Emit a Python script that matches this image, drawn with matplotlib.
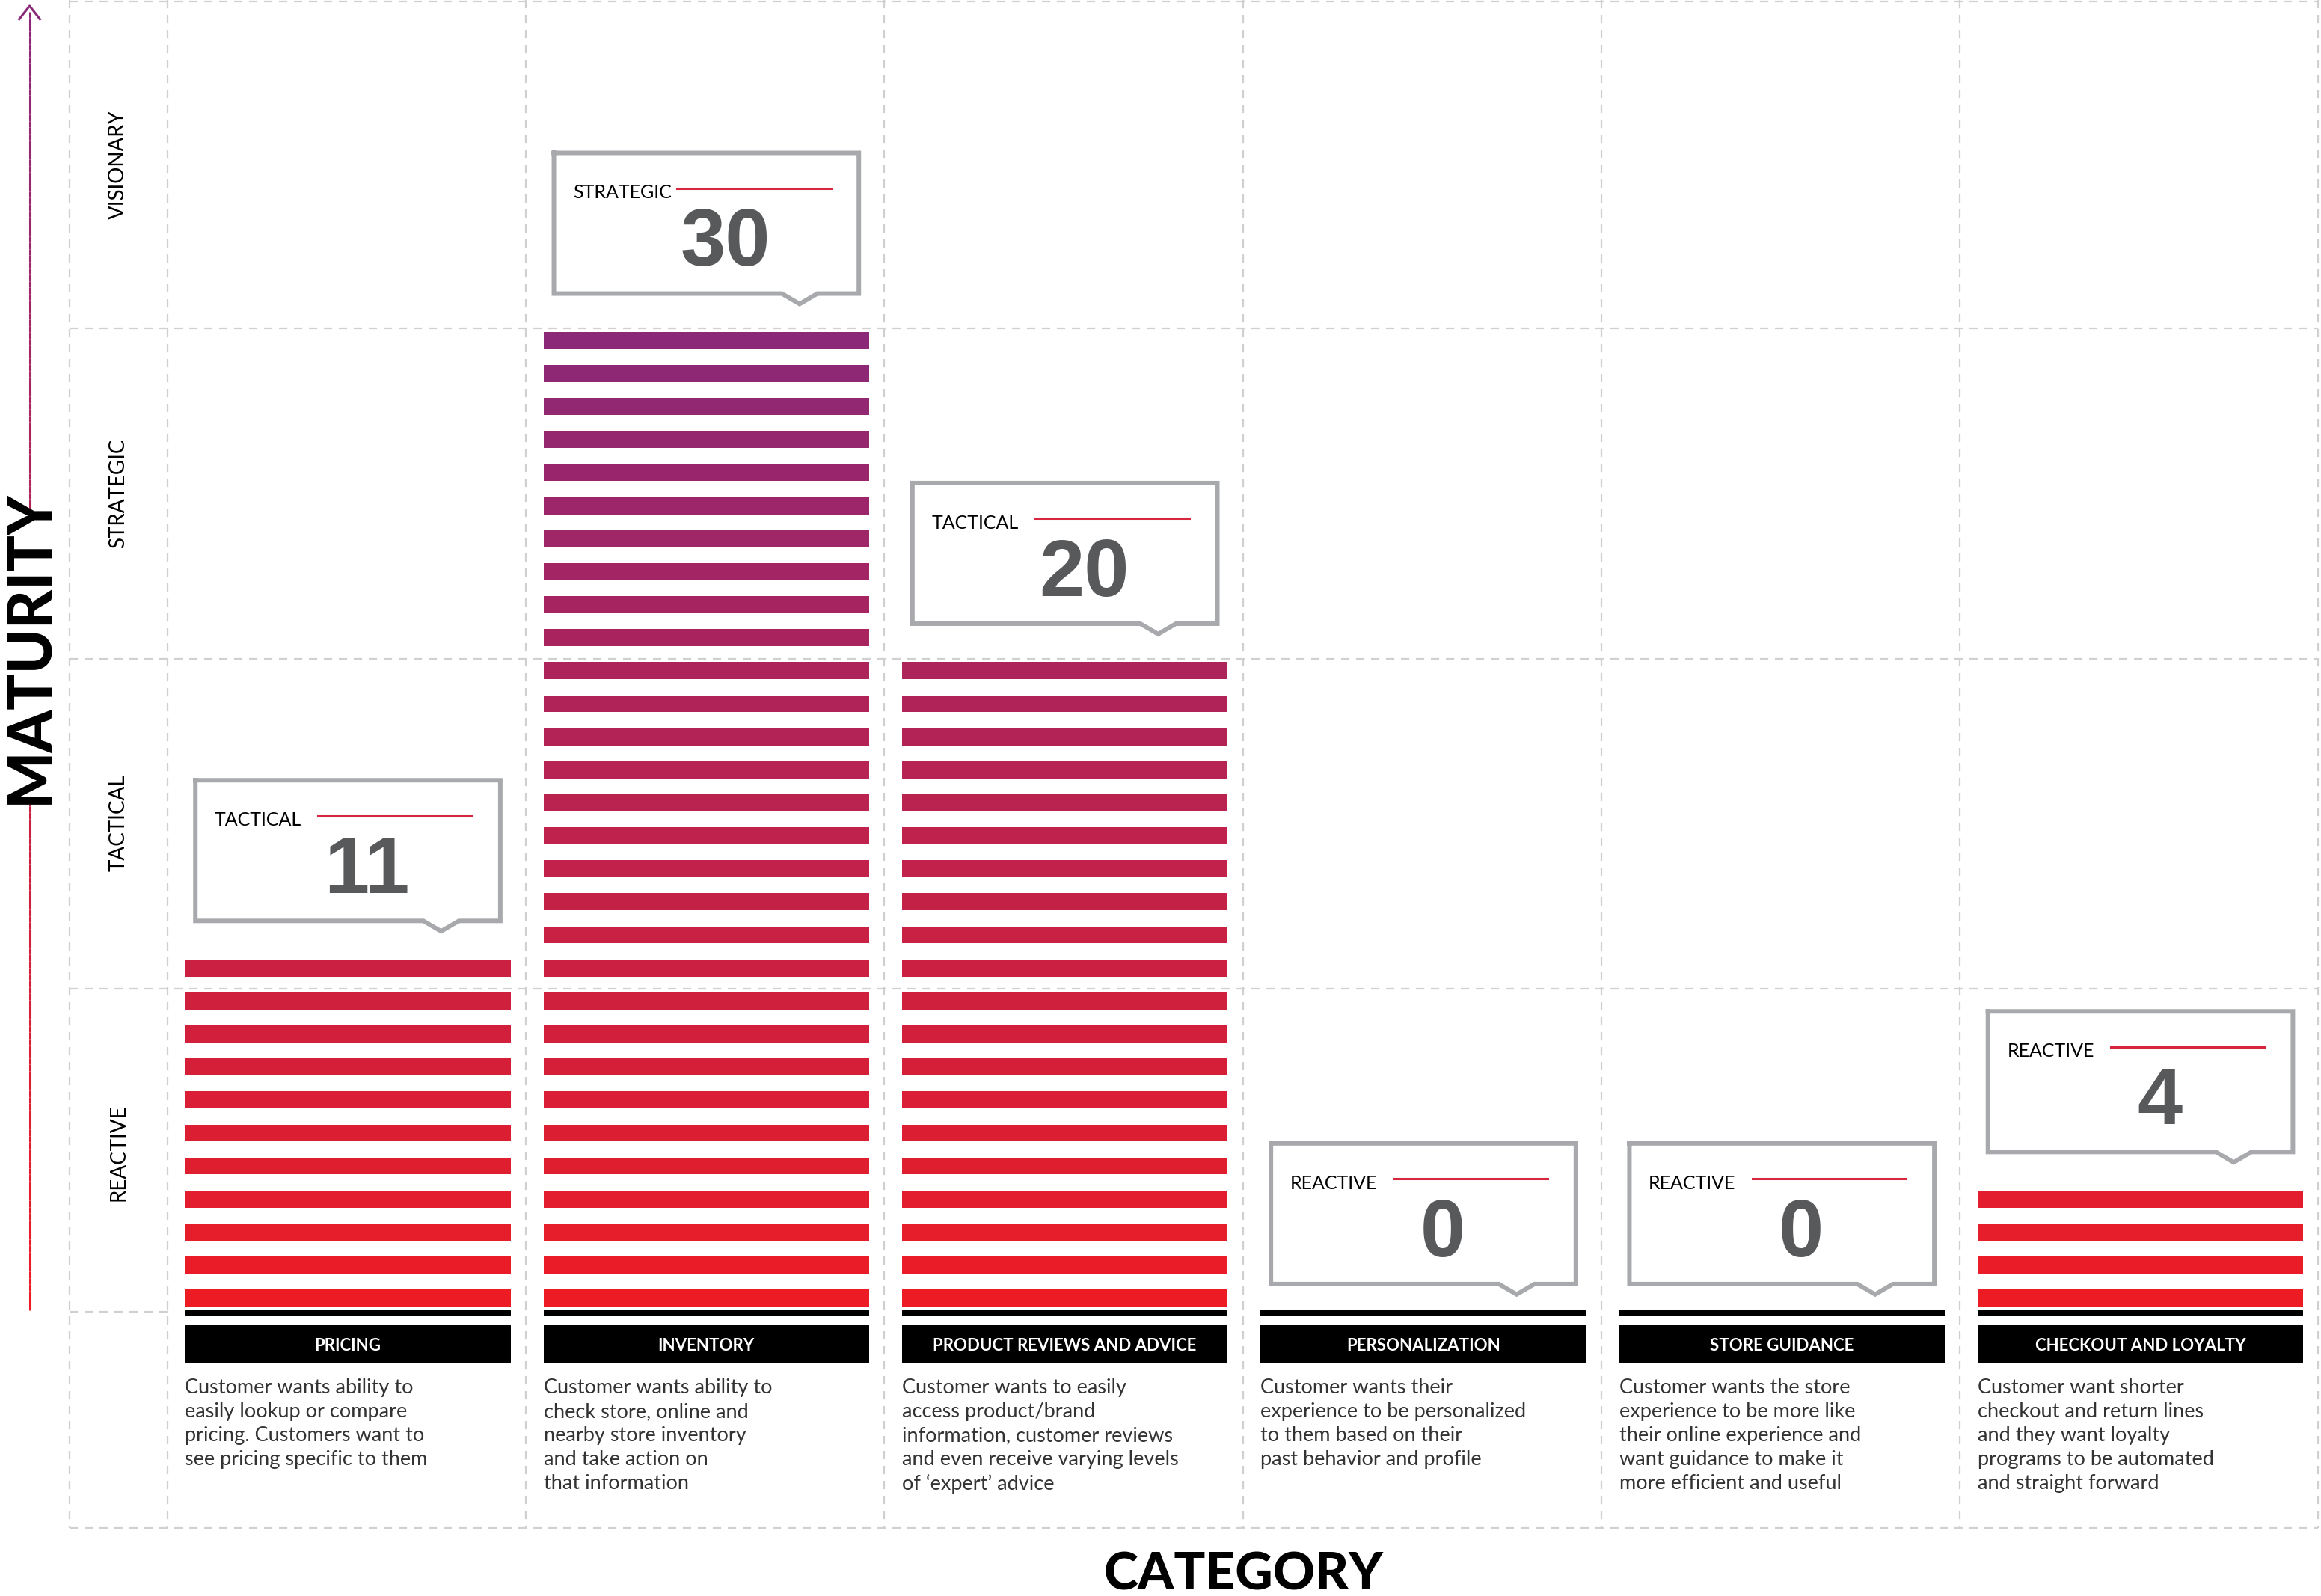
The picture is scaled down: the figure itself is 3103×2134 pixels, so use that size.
import numpy as np
import matplotlib
matplotlib.use('Agg')
import matplotlib.pyplot as plt
from matplotlib.colors import to_rgb

# Data
categories = ['PRICING', 'INVENTORY', 'PRODUCT REVIEWS AND ADVICE',
              'PERSONALIZATION', 'STORE GUIDANCE', 'CHECKOUT AND LOYALTY']
values = [11, 30, 20, 0, 0, 4]
levels = ['TACTICAL', 'STRATEGIC', 'TACTICAL', 'REACTIVE', 'REACTIVE', 'REACTIVE']
descriptions = [
    'Customer wants ability to\neasily lookup or compare\npricing. Customers want to\nsee pricing specific to them',
    'Customer wants ability to\ncheck store, online and\nnearby store inventory\nand take action on\nthat information',
    'Customer wants to easily\naccess product/brand\ninformation, customer reviews\nand even receive varying levels\nof \u2018expert\u2019 advice',
    'Customer wants their\nexperience to be personalized\nto them based on their\npast behavior and profile',
    'Customer wants the store\nexperience to be more like\ntheir online experience and\nwant guidance to make it\nmore efficient and useful',
    'Customer want shorter\ncheckout and return lines\nand they want loyalty\nprograms to be automated\nand straight forward',
]
row_labels = ['VISIONARY', 'STRATEGIC', 'TACTICAL', 'REACTIVE']

SANS = ['Lato', 'DejaVu Sans']
NUM = ['Liberation Sans', 'DejaVu Sans']

fig = plt.figure(figsize=(31.03, 21.34), dpi=100)
ax = fig.add_axes([0, 0, 1, 1])
ax.set_xlim(0, 1568)
ax.set_ylim(1078, 0)
ax.axis('off')

# grid (display-px coordinates)
grid_kw = dict(color='#d0d0d0', lw=1.6, ls=(0, (5, 4)), zorder=0)
col_x = [113 + 242.2 * i for i in range(7)]
ax.plot([47, 47], [0, 1032], **grid_kw)
for x in col_x:
    ax.plot([x, x], [0, 1032], **grid_kw)
for y in [1, 222, 445, 668]:
    ax.plot([47, 1566], [y, y], **grid_kw)
ax.plot([47, 113], [886, 886], **grid_kw)
ax.plot([47, 1566], [1032, 1032], **grid_kw)

# row labels
for i, lab in enumerate(row_labels):
    ax.text(80, 111 + 222.5 * i, lab, rotation=90, ha='center', va='center',
            fontsize=20, family=SANS, color='black')

red = np.array(to_rgb('#ED1C24'))
purple = np.array(to_rgb('#8B2878'))
y_bot, y_top, pitch = 871, 224, 22.3


def stripe_color(y):
    t = np.clip((y_bot - y) / (y_bot - y_top), 0, 1)
    return red * (1 - t) + purple * t


for i, (cat, v, lev, desc) in enumerate(zip(categories, values, levels, descriptions)):
    L = col_x[i] + 12
    R = L + 220
    for k in range(v):
        y = y_bot - k * pitch
        ax.fill_between([L, R], y, y + 11.5, color=stripe_color(y), lw=0)
    # base and label
    ax.fill_between([L, R], 884.5, 888.5, color='black', lw=0)
    ax.fill_between([L, R], 895, 921, color='black', lw=0)
    ax.text((L + R) / 2, 909, cat, ha='center', va='center', color='white',
            fontsize=16, fontweight='bold', family=SANS)
    ax.text(L, 931, desc, ha='left', va='top', color='#333333', fontsize=19.5,
            family=SANS, linespacing=1.35)
    # callout
    top = y_bot - (v - 1) * pitch if v > 0 else y_bot + pitch
    bT, bB = top - 121, top - 26
    bL, bR = col_x[i] + 19, col_x[i] + 225
    px = [bL, bR, bR, bR - 28, bR - 40, bR - 52, bL, bL]
    py = [bT, bT, bB, bB, bB + 7, bB, bB, bT]
    ax.plot(px, py, color='#a7a9ac', lw=4.3, solid_joinstyle='miter', zorder=3)
    ax.text(bL + 13, bT + 27, lev, ha='left', va='center', fontsize=18,
            family=SANS, color='black')
    ax.plot([bL + 83, bR - 19], [bT + 24, bT + 24], color='#d7263d', lw=2.2)
    ax.text(bL + 116, bT + 62, str(v), ha='center', va='center', fontsize=78,
            fontweight='bold', family=NUM, color='#58595b')

# maturity axis
for y0, y1 in [(885, 540), (350, 8)]:
    ys = np.linspace(y0, y1, 80)
    for a, b in zip(ys[:-1], ys[1:]):
        ax.plot([20, 20], [a, b], color=stripe_color(871 - (885 - a) / 880 * 647 * 1.0),
                lw=2.2, solid_capstyle='butt')
ax.plot([13, 20, 27], [13, 4, 13], color=purple, lw=2.2)
ax.text(20, 437, 'MATURITY', rotation=90, ha='center', va='center',
        fontsize=58, fontweight='black', family=['Lato', 'DejaVu Sans'], color='black')
ax.text(840, 1064, 'CATEGORY', ha='center', va='center', fontsize=50,
        fontweight='black', family=['Lato', 'DejaVu Sans'], color='black')

fig.savefig('out.png', dpi=100)
